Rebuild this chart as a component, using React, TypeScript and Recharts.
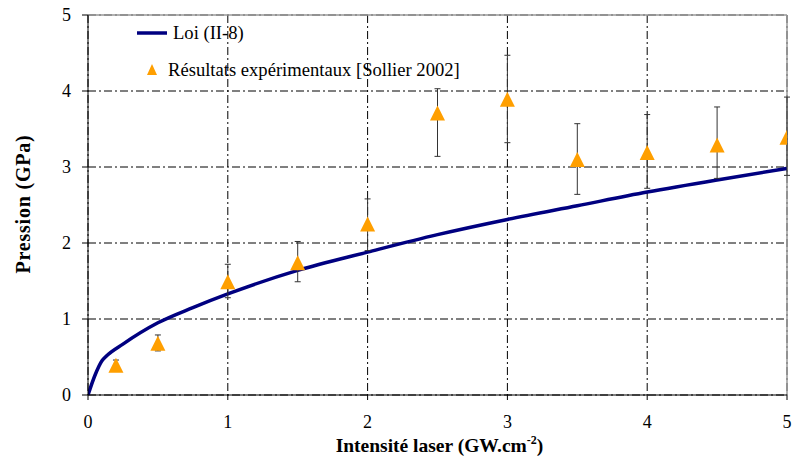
import React from 'react';
import {
  ComposedChart, Line, Scatter, ErrorBar, XAxis, YAxis, CartesianGrid,
  ReferenceLine, Legend,
} from 'recharts';

// Loi (II-8) curve
const lawX = [0, 0.05, 0.1, 0.13, 0.25, 0.5, 0.75, 1, 1.5, 2, 2.5, 3, 3.5, 4, 4.5, 5];
const lawP = [0, 0.26, 0.45, 0.51, 0.67, 0.95, 1.15, 1.33, 1.64, 1.88, 2.11, 2.31, 2.49, 2.67, 2.83, 2.98];

// experimental points [Sollier 2002]
const expX = [0.2, 0.5, 1, 1.5, 2, 2.5, 3, 3.5, 4, 4.5, 5];
const expP = [0.39, 0.68, 1.49, 1.74, 2.25, 3.71, 3.89, 3.1, 3.19, 3.29, 3.39];
const expLow = [0.32, 0.58, 1.28, 1.49, 1.9, 3.14, 3.32, 2.64, 2.72, 2.85, 2.89];
const expHigh = [0.46, 0.79, 1.72, 2.02, 2.58, 4.03, 4.47, 3.57, 3.69, 3.79, 3.92];

const ticks = [0, 1, 2, 3, 4, 5];

const lawData = lawX.map((x, i) => ({ x, p: lawP[i] }));
const expData = expX.map((x, i) => ({
  x,
  p: expP[i],
  err: [expP[i] - expLow[i], expHigh[i] - expP[i]],
}));

const FONT = "'Liberation Serif', serif";
const NAVY = '#000080';
const ORANGE = '#FF9F00';
const GRID = '8 3 2 3';

const Triangle = (props: any) => {
  const { cx, cy } = props;
  if (cx == null || cy == null) return null;
  const h = 15;
  const w = 15;
  return (
    <polygon
      points={`${cx},${cy - h / 2} ${cx - w / 2},${cy + h / 2} ${cx + w / 2},${cy + h / 2}`}
      fill={ORANGE}
    />
  );
};

const LegendBox = () => (
  <svg width={520} height={90} style={{ fontFamily: FONT, fontSize: 18.6 }}>
    <line x1={137} y1={33} x2={167} y2={33} stroke={NAVY} strokeWidth={3.5} />
    <text x={173} y={39} fill="#000">Loi (II-8)</text>
    <polygon points="152,64 147,75 157,75" fill={ORANGE} />
    <text x={168} y={76} fill="#000">Résultats expérimentaux [Sollier 2002]</text>
  </svg>
);

const XLabel = (props: any) => {
  const vb = props.viewBox || {};
  const cx = vb.x + vb.width / 2 + 2;
  const y = vb.y + 57;
  return (
    <text x={cx} y={y} textAnchor="middle" style={{ fontFamily: FONT }} fontSize={19.5} fontWeight="bold" fill="#000">
      Intensité laser (GW.cm
      <tspan fontSize={12} dy={-8}>-2</tspan>
      <tspan dy={8}>)</tspan>
    </text>
  );
};

const YLabel = () => (
  <text
    x={30}
    y={204}
    transform="rotate(-90 30 204)"
    textAnchor="middle"
    style={{ fontFamily: FONT, letterSpacing: 0.8 }}
    fontSize={20}
    fontWeight="bold"
    fill="#000"
  >
    Pression (GPa)
  </text>
);

export default function App() {
  return (
    <div style={{ position: 'absolute', left: 0, top: 0, width: 792, height: 462, background: '#fff', fontFamily: FONT }}>
      <ComposedChart
        width={792}
        height={462}
        margin={{ top: 15, right: 5, bottom: 0, left: 0 }}
        style={{ fontFamily: FONT }}
      >
        <CartesianGrid stroke="#000" strokeDasharray={GRID} strokeWidth={1} />
        <ReferenceLine y={5} stroke="#999" strokeWidth={1.5} />
        <ReferenceLine x={5} stroke="#999" strokeWidth={1.5} />
        <XAxis
          dataKey="x"
          type="number"
          domain={[0, 5]}
          ticks={ticks}
          allowDataOverflow
          height={67}
          stroke="#000"
          tickSize={5}
          tickMargin={15}
          tick={{ fill: '#000', fontSize: 18, style: { fontFamily: FONT } }}
          label={<XLabel />}
        />
        <YAxis
          dataKey="p"
          type="number"
          domain={[0, 5]}
          ticks={ticks}
          allowDataOverflow
          width={88}
          stroke="#000"
          tickSize={6}
          tickMargin={11}
          tick={{ fill: '#000', fontSize: 18, style: { fontFamily: FONT } }}
          label={<YLabel />}
        />
        <Legend
          layout="vertical"
          align="center"
          verticalAlign="middle"
          content={<LegendBox />}
          wrapperStyle={{ position: 'absolute', left: 0, top: 0, width: 520, height: 90 }}
        />
        <Line
          data={lawData}
          dataKey="p"
          name="Loi (II-8)"
          type="monotone"
          stroke={NAVY}
          strokeWidth={3.5}
          dot={false}
          activeDot={false}
          isAnimationActive={false}
        />
        <Scatter
          data={expData}
          dataKey="p"
          name="Résultats expérimentaux [Sollier 2002]"
          shape={<Triangle />}
          isAnimationActive={false}
        >
          <ErrorBar dataKey="err" direction="y" width={3} stroke="#333" strokeWidth={1} isAnimationActive={false} />
        </Scatter>
      </ComposedChart>
    </div>
  );
}
